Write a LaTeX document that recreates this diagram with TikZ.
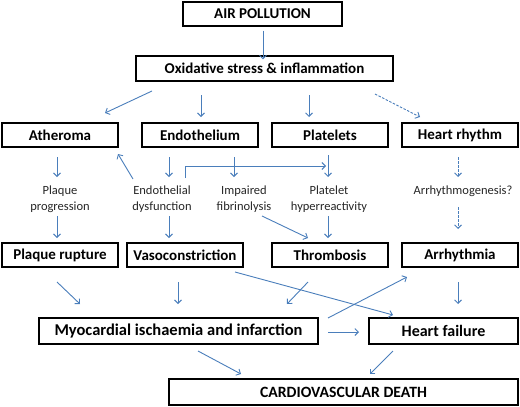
\documentclass[tikz,border=0pt]{standalone}
\usepackage{fontspec}
\setmainfont{Carlito}
\usetikzlibrary{arrows.meta}
\definecolor{arr}{RGB}{74,126,187}
\begin{document}
\begin{tikzpicture}[x=1pt,y=-1pt,
  box/.style={draw=black,line width=1.1pt,fill=white,font=\bfseries\fontsize{15}{17}\selectfont,inner sep=0pt},
  lbl/.style={font=\fontsize{12.5}{15.5}\selectfont,text=black!85,align=center,inner sep=0pt},
  ar/.style={draw=arr,line width=0.9pt,-{Straight Barb[length=3.5pt,width=7pt]}},
  dar/.style={ar,dash pattern=on 2.5pt off 1.5pt}]
\useasboundingbox (0,0) rectangle (520,407);
\def\bx#1#2#3#4#5#6{\node[box,minimum width=#4-#2,minimum height=#5-#3] (#1) at ({(#2+#4)/2},{(#3+#5)/2}) {#6};}
\bx{air}{183}{2}{342}{26}{AIR POLLUTION}
\bx{ox}{136}{56}{393}{81}{Oxidative stress \& inflammation}
\bx{ath}{2}{123}{118}{147}{Atheroma}
\bx{endo}{142}{123}{258}{147}{Endothelium}
\bx{plt}{272}{123}{388}{147}{Platelets}
\bx{hr}{402}{123}{518}{147}{Heart rhythm}
\bx{pr}{2}{243}{118}{267}{Plaque rupture}
\bx{vaso}{127}{243}{243}{267}{Vasoconstriction}
\bx{thr}{272}{243}{388}{267}{Thrombosis}
\bx{arr}{402}{243}{518}{267}{Arrhythmia}
\bx{mi}{39}{318}{318}{344}{\fontsize{16.5}{18}\selectfont Myocardial ischaemia and infarction}
\bx{hf}{369}{318}{518}{344}{\fontsize{16}{18}\selectfont Heart failure}
\bx{cvd}{169}{379}{518}{405}{\fontsize{15.7}{18}\selectfont CARDIOVASCULAR DEATH}
\node[lbl] (pp) at (60,199) {Plaque\\progression};
\node[lbl] (ed) at (162,199) {Endothelial\\dysfunction};
\node[lbl] (if) at (244,199) {Impaired\\fibrinolysis};
\node[lbl] (ph) at (329,199) {Platelet\\hyperreactivity};
\node[lbl] (ag) at (463,191) {Arrhythmogenesis?};
% connectors
\draw[ar] (air.south -| 263,0) ++(0,4) -- ([yshift=-4pt]ox.north -| 263,0);
\draw[ar] (152,91) -- (105,113);
\draw[ar] (201,95) -- (201,117);
\draw[ar] (309,95) -- (309,117);
\draw[dar] (375,94) -- (420,117);
\draw[ar] (57,157) -- (57,177);
\draw[ar] (169,157) -- (169,177);
\draw[ar] (234,157) -- (234,177);
\draw[ar] (328,155) -- (328,177);
\draw[ar] (185,178) -- (185,166) -- (326,166);
\draw[ar] (133,179) -- (118,154);
\draw[dar] (458,157) -- (458,177);
\draw[dar] (458,207) -- (458,229);
\draw[ar] (57,216) -- (57,238);
\draw[ar] (169,216) -- (169,238);
\draw[ar] (328,216) -- (328,238);
\draw[ar] (262,216) -- (308,238);
\draw[ar] (57,282) -- (80,304);
\draw[ar] (178,282) -- (178,304);
\draw[ar] (235,272) -- (393,315);
\draw[ar] (308,282) -- (287,304);
\draw[ar] (328,318) -- (407,277);
\draw[ar] (458,282) -- (458,304);
\draw[ar] (328,332) -- (359,332);
\draw[ar] (198,351) -- (241,374);
\draw[ar] (393,351) -- (370,374);
\end{tikzpicture}
\end{document}
